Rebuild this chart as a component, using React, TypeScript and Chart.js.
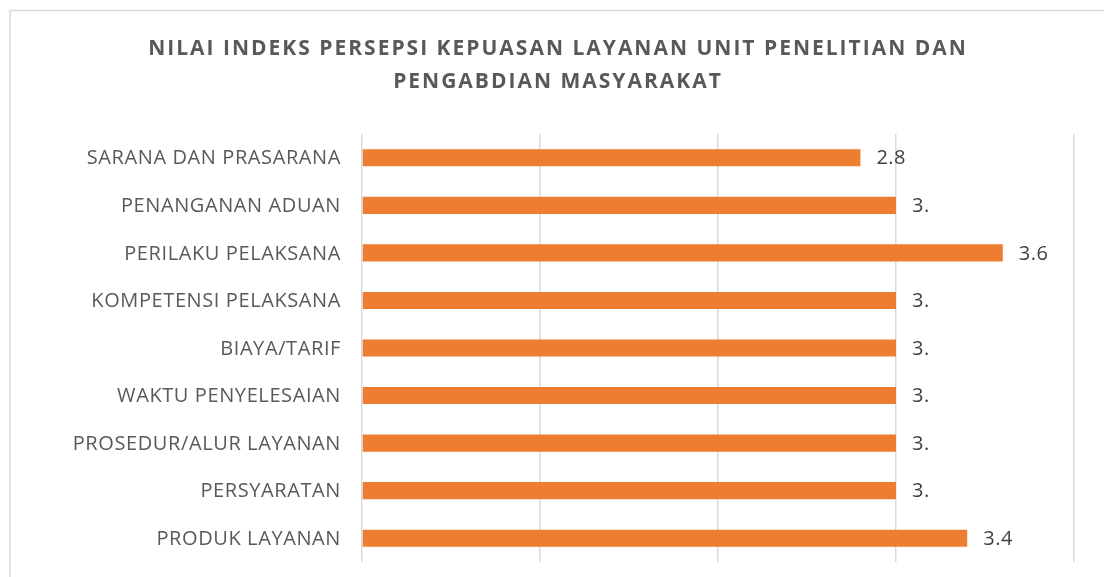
import React, { useEffect, useRef } from "react";
import { Chart, registerables } from "chart.js";

Chart.register(...registerables);

const categories = [
  "SARANA DAN PRASARANA",
  "PENANGANAN ADUAN",
  "PERILAKU PELAKSANA",
  "KOMPETENSI PELAKSANA",
  "BIAYA/TARIF",
  "WAKTU PENYELESAIAN",
  "PROSEDUR/ALUR LAYANAN",
  "PERSYARATAN",
  "PRODUK LAYANAN",
];
const values = [2.8, 3.0, 3.6, 3.0, 3.0, 3.0, 3.0, 3.0, 3.4];
const valueLabels = ["2.8", "3.", "3.6", "3.", "3.", "3.", "3.", "3.", "3.4"];
const titleLines = [
  "NILAI INDEKS PERSEPSI KEPUASAN LAYANAN UNIT PENELITIAN DAN",
  "PENGABDIAN MASYARAKAT",
];
const xMin = 0;
const xMax = 4;

const frame = {
  id: "frame",
  beforeDraw(chart: any) {
    const ctx = chart.ctx;
    ctx.save();
    ctx.fillStyle = "#ffffff";
    ctx.fillRect(0, 0, chart.width, chart.height);
    ctx.strokeStyle = "#d9d9d9";
    ctx.lineWidth = 1.5;
    ctx.beginPath();
    ctx.moveTo(10, chart.height);
    ctx.lineTo(10, 10.5);
    ctx.lineTo(chart.width, 10.5);
    ctx.stroke();
    ctx.restore();
  },
};

const titlePlugin = {
  id: "titleSpaced",
  afterDraw(chart: any) {
    const ctx = chart.ctx;
    ctx.save();
    ctx.font = "bold 21px 'Open Sans'";
    (ctx as any).letterSpacing = "2px";
    ctx.fillStyle = "#595959";
    ctx.textAlign = "center";
    ctx.textBaseline = "middle";
    titleLines.forEach((t, i) => ctx.fillText(t, 558, 49 + i * 33));
    ctx.restore();
  },
};

const categoryLabels = {
  id: "categoryLabels",
  afterDraw(chart: any) {
    const ctx = chart.ctx;
    const y = chart.scales.y;
    ctx.save();
    ctx.font = "20px 'Open Sans'";
    (ctx as any).letterSpacing = "0.6px";
    ctx.fillStyle = "#595959";
    ctx.textAlign = "right";
    ctx.textBaseline = "middle";
    categories.forEach((c, i) => {
      ctx.fillText(c, chart.chartArea.left - 21, y.getPixelForValue(i) + 1);
    });
    ctx.restore();
  },
};

const dataLabels = {
  id: "dataLabels",
  afterDatasetsDraw(chart: any) {
    const ctx = chart.ctx;
    const meta = chart.getDatasetMeta(0);
    ctx.save();
    ctx.font = "20px 'Open Sans'";
    (ctx as any).letterSpacing = "0.5px";
    ctx.fillStyle = "#404040";
    ctx.textAlign = "left";
    ctx.textBaseline = "middle";
    meta.data.forEach((bar: any, i: number) => {
      ctx.fillText(valueLabels[i], bar.x + 16, bar.y + 1);
    });
    ctx.restore();
  },
};

export default function App() {
  const ref = useRef<HTMLCanvasElement>(null);
  useEffect(() => {
    if (!ref.current) return;
    const chart = new Chart(ref.current, {
      type: "bar",
      data: {
        labels: categories,
        datasets: [
          {
            data: values,
            backgroundColor: "#ED7D31",
            barPercentage: 0.36,
            categoryPercentage: 1,
          },
        ],
      },
      options: {
        indexAxis: "y",
        animation: false,
        responsive: false,
        layout: { padding: { top: 134, bottom: 15, left: 10, right: 30 } },
        plugins: {
          legend: { display: false },
          title: { display: false },
          tooltip: { enabled: false },
        },
        scales: {
          x: {
            min: xMin,
            max: xMax,
            afterFit(scale: any) {
              scale.height = 0;
            },
            ticks: { display: false, stepSize: 1 },
            grid: { color: "#d9d9d9", lineWidth: 1.5, drawTicks: false },
            border: { display: false },
          },
          y: {
            afterFit(scale: any) {
              scale.width = 352;
            },
            ticks: { display: false },
            grid: { display: false, drawTicks: false },
            border: { display: false },
          },
        },
      },
      plugins: [frame, dataLabels, categoryLabels, titlePlugin],
    });
    return () => chart.destroy();
  }, []);
  return (
    <div style={{ position: "absolute", left: 0, top: 0, width: 1104, height: 577, background: "#fff" }}>
      <canvas ref={ref} width={1104} height={577} />
    </div>
  );
}
